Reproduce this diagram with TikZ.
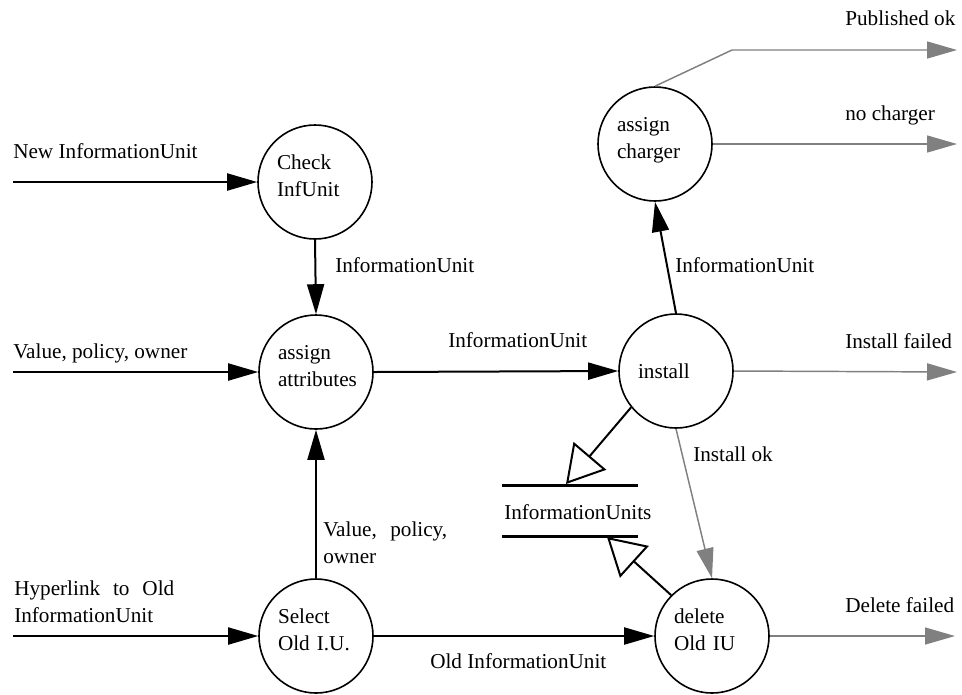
\documentclass[tikz,border=0pt]{standalone}
\usepackage{fontspec}
\setmainfont{Liberation Serif}
\usetikzlibrary{arrows.meta}
\definecolor{outgray}{RGB}{128,128,128}
\newcommand{\symstrut}{\rule[-9pt]{0pt}{18pt}}
\begin{document}
\begin{tikzpicture}[x=0.75pt,y=-0.75pt,
  every node/.style={font=\fontsize{15.9}{20.25}\selectfont},
  proc/.style={circle,draw,line width=1.2pt,minimum size=85.5pt,inner sep=0pt,
               text width=57pt,align=left},
  proctwo/.style={proc,execute at begin node=\symstrut,execute at end node=\symstrut},
  flow/.style={line width=1.5pt,-{Triangle[length=22.5pt,width=12.75pt]}},
  outflow/.style={line width=1.1pt,outgray,-{Triangle[length=22.5pt,width=12.75pt]}},
  storeflow/.style={line width=1.5pt,-{Triangle[open,length=27.75pt,width=32pt,fill=white]}},
  storeline/.style={line width=2.25pt},
  lbl/.style={anchor=base west,inner sep=0pt,align=left},
]
\useasboundingbox (0,0) rectangle (962,694);

% processes
\node[proctwo] (check)   at (315,182) {Check\\InfUnit};
\node[proctwo] (assign)  at (316,372) {assign\\attributes};
\node[proctwo] (select)  at (316,636) {Select\\Old I.U.};
\node[proc]    (install) at (676,371) {install};
\node[proctwo] (charger) at (655,144) {assign\\charger};
\node[proctwo] (delete)  at (712,636) {delete\\Old IU};

% data store
\coordinate (st1) at (502,485);
\coordinate (st2) at (638,485);
\coordinate (sb1) at (502,536);
\coordinate (sb2) at (638,536);
\draw[storeline] (st1) -- (st2);
\draw[storeline] (sb1) -- (sb2);
\node[lbl] (storename) at (504,519) {InformationUnits};
\coordinate (stin)  at (566,484);
\coordinate (stout) at (607,537);

% external inputs
\coordinate (in1) at (13,182);
\coordinate (in2) at (13,372);
\coordinate (in3) at (13,636);
\draw[flow] (in1) -- (check);
\draw[flow] (in2) -- (assign);
\draw[flow] (in3) -- (select);
\node[lbl] (l1) at (13,158) {New InformationUnit};
\node[lbl] (l2) at (13,358) {Value, policy, owner};
\node[lbl] (l3) at (14,622) {\makebox[120pt][s]{Hyperlink to Old}\\InformationUnit};

% internal flows
\draw[flow] (check.south) -- (assign.north);
\node[lbl] (l4) at (335,272) {InformationUnit};
\draw[flow] (select.north) -- (assign.south);
\node[lbl] (l5) at (323,563) {\makebox[93pt][s]{Value, policy,}\\owner};
\draw[flow] (assign.east) -- (install.west);
\node[lbl] (l6) at (448,347) {InformationUnit};
\draw[flow] (install.north) -- (charger.south);
\node[lbl] (l7) at (675,272) {InformationUnit};
\draw[flow] (select.east) -- (delete.west);
\node[lbl] (l8) at (430,668) {Old InformationUnit};

% store access
\draw[storeflow] (install.219) -- (stin);
\draw[storeflow] (delete.135) -- (stout);

% results
\coordinate (pbend) at (732,50);
\coordinate (pout)  at (957,50);
\coordinate (nout)  at (957,144);
\coordinate (fout)  at (957,372);
\coordinate (dout)  at (955,636);
\draw[outflow] (charger.north) -- (pbend) -- (pout);
\node[lbl] (l9) at (845,25) {Published ok};
\draw[outflow] (charger.east) -- (nout);
\node[lbl] (l10) at (845,120) {no charger};
\draw[outflow] (install.east) -- (fout);
\node[lbl] (l11) at (845,348) {Install failed};
\draw[outflow] (install.south) -- (delete.north);
\node[lbl] (l12) at (693,461) {Install ok};
\draw[outflow] (delete.east) -- (dout);
\node[lbl] (l13) at (845,612) {Delete failed};
\end{tikzpicture}
\end{document}
